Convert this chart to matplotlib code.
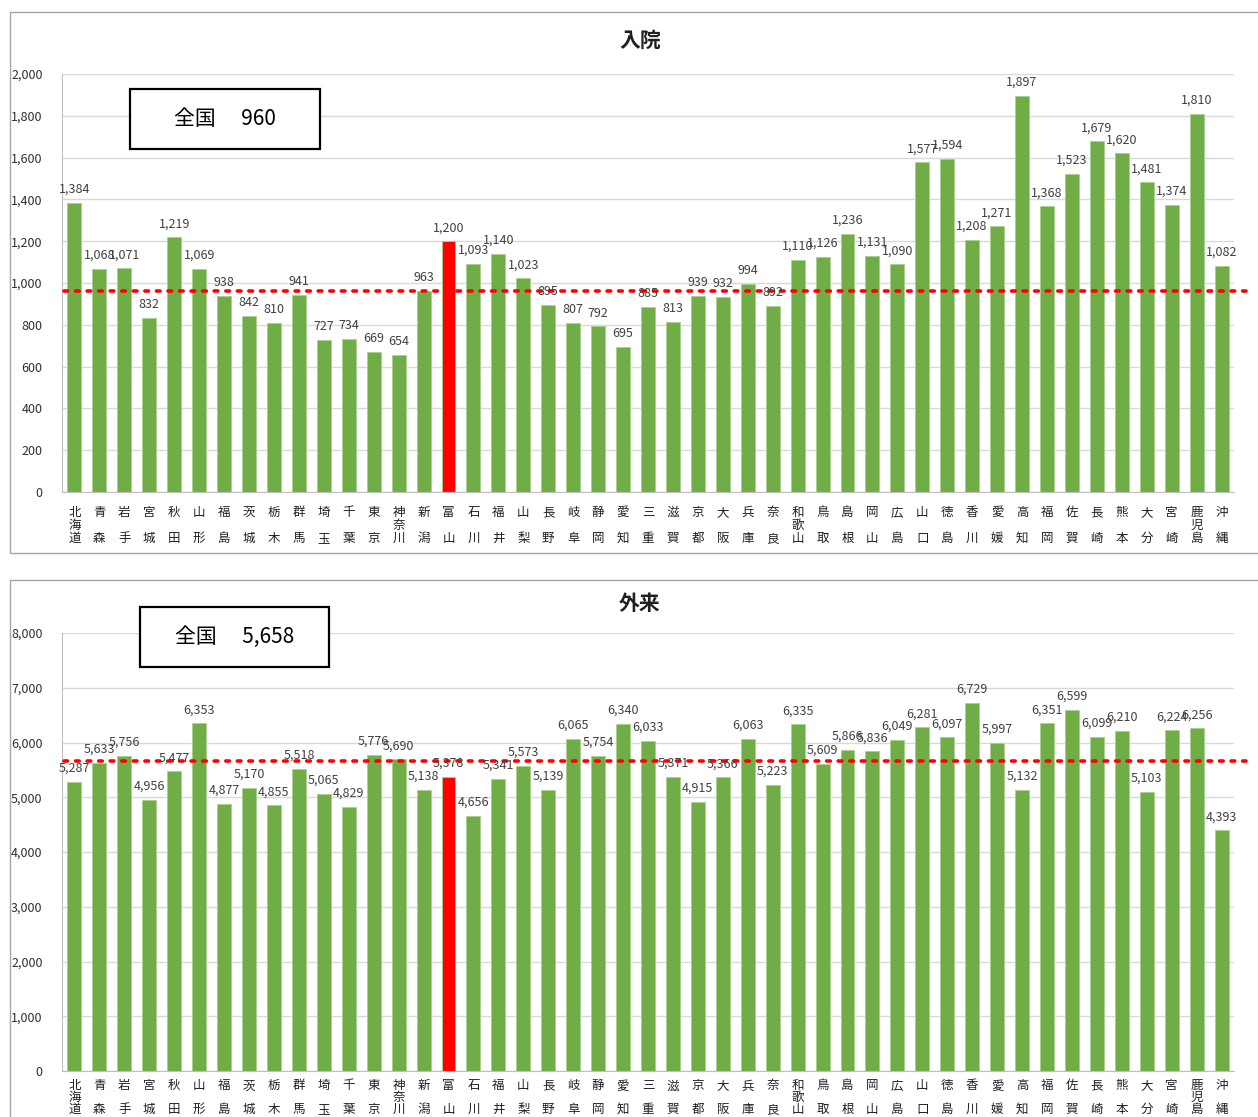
import numpy as np
import matplotlib.pyplot as plt
from matplotlib.patches import Rectangle

plt.rcParams['font.family'] = ['Noto Sans CJK JP', 'DejaVu Sans']

prefs = ['北海道', '青森', '岩手', '宮城', '秋田', '山形', '福島', '茨城', '栃木', '群馬',
         '埼玉', '千葉', '東京', '神奈川', '新潟', '富山', '石川', '福井', '山梨', '長野',
         '岐阜', '静岡', '愛知', '三重', '滋賀', '京都', '大阪', '兵庫', '奈良', '和歌山',
         '鳥取', '島根', '岡山', '広島', '山口', '徳島', '香川', '愛媛', '高知', '福岡',
         '佐賀', '長崎', '熊本', '大分', '宮崎', '鹿児島', '沖縄']

inpatient = [1384, 1068, 1071, 832, 1219, 1069, 938, 842, 810, 941,
             727, 734, 669, 654, 963, 1200, 1093, 1140, 1023, 895,
             807, 792, 695, 885, 813, 939, 932, 994, 892, 1110,
             1126, 1236, 1131, 1090, 1577, 1594, 1208, 1271, 1897, 1368,
             1523, 1679, 1620, 1481, 1374, 1810, 1082]

outpatient = [5287, 5633, 5756, 4956, 5477, 6353, 4877, 5170, 4855, 5518,
              5065, 4829, 5776, 5690, 5138, 5378, 4656, 5341, 5573, 5139,
              6065, 5754, 6340, 6033, 5371, 4915, 5366, 6063, 5223, 6335,
              5609, 5866, 5836, 6049, 6281, 6097, 6729, 5997, 5132, 6351,
              6599, 6099, 6210, 5103, 6224, 6256, 4393]

national_in = 960
national_out = 5658
highlight = '富山'

GREEN = '#70AD47'
RED = '#FF0000'
GRID = '#D9D9D9'
TEXT = '#404040'


def stacked(name):
    # vertical label; two-character names leave a blank middle row
    if len(name) == 2:
        return name[0] + '\n\n' + name[1]
    return '\n'.join(name)


W, H = 1258, 1117
fig = plt.figure(figsize=(W / 100, H / 100), dpi=100)

# panel frames
for y0, y1 in [(12, 553), (580, 1125)]:
    fig.patches.append(Rectangle((10 / W, 1 - y1 / H), (W - 8) / W, (y1 - y0) / H,
                                 transform=fig.transFigure, fill=False,
                                 edgecolor='#A6A6A6', linewidth=1.0))


def draw(rect, values, ymax, step, national, title, title_y, box, box_text,
         label_pad, label_spacing):
    ax = fig.add_axes(rect)
    x = np.arange(len(values))
    colors = [RED if p == highlight else GREEN for p in prefs]
    ax.bar(x, values, width=0.56, color=colors, edgecolor='#A9D08E', linewidth=0.6, zorder=2)
    ax.set_xlim(-0.5, len(values) - 0.5)
    ax.set_ylim(0, ymax)
    ax.set_yticks(np.arange(0, ymax + 1, step))
    ax.set_yticklabels([f'{v:,}' for v in range(0, ymax + 1, step)], fontsize=9, color='#303030')
    ax.yaxis.grid(True, color=GRID, linewidth=1.0, zorder=0)
    ax.set_axisbelow(True)
    ax.tick_params(axis='y', length=0, pad=14)
    ax.tick_params(axis='x', length=0, pad=label_pad)
    ax.set_xticks(x)
    ax.set_xticklabels([stacked(p) for p in prefs], fontsize=9, color='#202020',
                       linespacing=label_spacing, va='top')
    for s in ['top', 'right']:
        ax.spines[s].set_visible(False)
    ax.spines['left'].set_color('#BFBFBF')
    ax.spines['bottom'].set_color('#BFBFBF')

    for xi, v in zip(x, values):
        ax.annotate(f'{v:,}', (xi, v), xytext=(0, 5), textcoords='offset points',
                    ha='center', va='bottom', fontsize=9, color=TEXT, zorder=4)

    ax.plot([-0.4, len(values) + 0.0], [national, national], linestyle=(0, (1, 2.2)),
            color=RED, linewidth=2.6, clip_on=False, zorder=3, dash_capstyle='round')

    fig.text(640 / W, 1 - title_y / H, title, ha='center', va='center',
             fontsize=15, fontweight='bold', color='#202020')

    bx0, by0, bx1, by1 = box
    fig.patches.append(Rectangle((bx0 / W, 1 - by1 / H), (bx1 - bx0) / W, (by1 - by0) / H,
                                 transform=fig.transFigure, facecolor='white',
                                 edgecolor='black', linewidth=1.6, zorder=5))
    fig.text((bx0 + bx1) / 2 / W, 1 - (by0 + by1) / 2 / H, box_text, ha='center', va='center',
             fontsize=15, color='black', zorder=6)
    return ax


ax_top = draw([62 / W, 1 - 492 / H, (1234 - 62) / W, (492 - 74) / H],
              inpatient, 2000, 200, national_in, '入院', 40,
              (130, 89, 320, 149), f'全国　 {national_in:,}', 10, 1.0)
ax_bot = draw([62 / W, 1 - 1071 / H, (1234 - 62) / W, (1071 - 633) / H],
              outpatient, 8000, 1000, national_out, '外来', 604,
              (140, 607, 329, 667), f'全国　 {national_out:,}', 6, 0.88)

fig.savefig('out.png', dpi=100, facecolor='white')
